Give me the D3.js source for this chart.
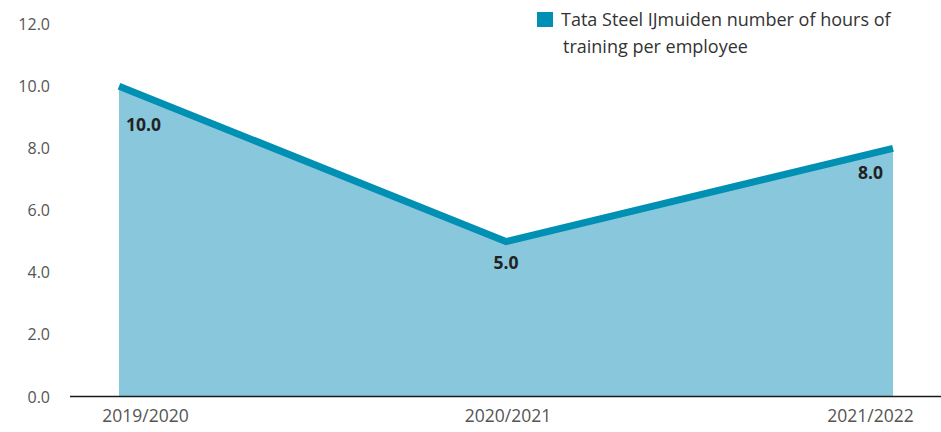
<!DOCTYPE html>
<html>
<head>
<meta charset="utf-8">
<script src="https://cdn.jsdelivr.net/npm/d3@7"></script>
<style>
  html, body { margin: 0; padding: 0; background: #fff; }
  svg { display: block; font-family: "Open Sans", "Noto Sans", sans-serif; }
</style>
</head>
<body>
<svg id="chart" width="941" height="432"></svg>
<script>
// Training hours per employee by financial year
const years = ["2019/2020", "2020/2021", "2021/2022"];
const hours = [10.0, 5.0, 8.0];
const yTicks = [0, 2, 4, 6, 8, 10, 12];
const legendLines = ["Tata Steel IJmuiden number of hours of", "training per employee"];

const svg = d3.select("#chart");
const W = 941, H = 432;

const y = d3.scaleLinear().domain([0, 12]).range([397, 24]);
const x = d3.scalePoint().domain(years).range([119, 893]);
// category labels sit on their own slightly inset positions
const xLab = d3.scalePoint().domain(years).range([145, 870]);

const data = years.map((c, i) => ({ c, v: hours[i] }));

// filled area under the line
const area = d3.area()
  .x(d => x(d.c))
  .y0(y(0))
  .y1(d => y(d.v));
svg.append("path")
  .datum(data)
  .attr("d", area)
  .attr("fill", "#89c7dc");

// the line itself
const line = d3.line().x(d => x(d.c)).y(d => y(d.v));
svg.append("path")
  .datum(data)
  .attr("d", line)
  .attr("fill", "none")
  .attr("stroke", "#0090b4")
  .attr("stroke-width", 7)
  .attr("stroke-linejoin", "miter");

// baseline
svg.append("line")
  .attr("x1", 70).attr("x2", W)
  .attr("y1", y(0) - 0.5).attr("y2", y(0) - 0.5)
  .attr("stroke", "#1a1a1a").attr("stroke-width", 1.3);

// y-axis tick labels
const yAxis = d3.axisLeft(y).tickValues(yTicks).tickFormat(d3.format(".1f")).tickSize(0).tickPadding(0);
const gy = svg.append("g").attr("transform", "translate(50,0)").call(yAxis);
gy.select(".domain").remove();
gy.selectAll("text")
  .attr("fill", "#555")
  .style("font-size", "16px")
  .style("font-family", "'Open Sans', sans-serif");

// x-axis category labels
const xAxis = d3.axisBottom(xLab).tickSize(0).tickPadding(0);
const gx = svg.append("g").attr("transform", "translate(0,410)").call(xAxis);
gx.select(".domain").remove();
gx.selectAll("text")
  .attr("fill", "#555")
  .style("font-size", "17.5px")
  .style("font-family", "'Open Sans', sans-serif");

// value labels
const labelPos = [
  { dx: 7, dy: 45, anchor: "start" },
  { dx: 0, dy: 27, anchor: "middle" },
  { dx: -10, dy: 31, anchor: "end" }
];
svg.selectAll("text.val")
  .data(data)
  .enter().append("text")
  .attr("class", "val")
  .attr("x", (d, i) => x(d.c) + labelPos[i].dx)
  .attr("y", (d, i) => y(d.v) + labelPos[i].dy)
  .attr("text-anchor", (d, i) => labelPos[i].anchor)
  .attr("fill", "#222")
  .style("font-size", "17.5px")
  .style("font-weight", "700")
  .text(d => d3.format(".1f")(d.v));

// legend
const lg = svg.append("g");
lg.append("rect")
  .attr("x", 537).attr("y", 12)
  .attr("width", 16).attr("height", 15)
  .attr("fill", "#0090b4");
lg.selectAll("text")
  .data(legendLines)
  .enter().append("text")
  .attr("x", (d, i) => i === 0 ? 561 : 563)
  .attr("y", (d, i) => 26 + i * 27)
  .attr("fill", "#333")
  .style("font-size", "18px")
  .text(d => d);
</script>
</body>
</html>
